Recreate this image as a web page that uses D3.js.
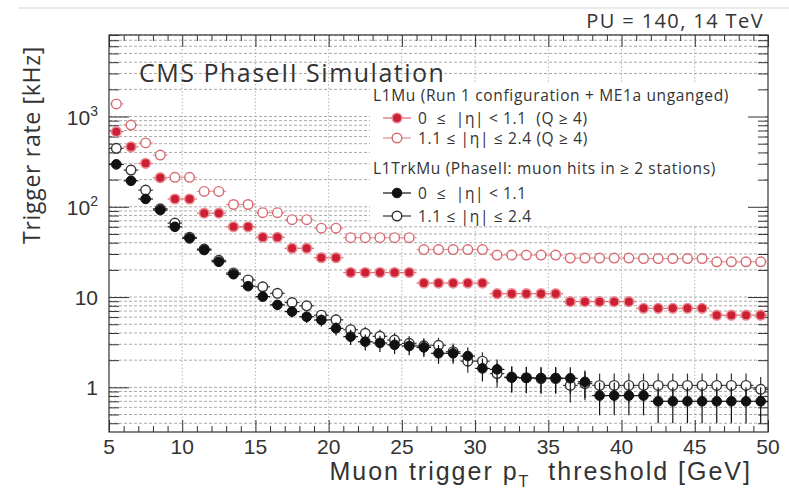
<!DOCTYPE html>
<html>
<head>
<meta charset="utf-8">
<script src="https://cdn.jsdelivr.net/npm/d3@7"></script>
<style>
  body { margin: 0; background: #fff; }
  svg { display: block; font-family: "Open Sans", "Noto Sans", sans-serif; }
  .pre { white-space: pre; }
  .axisfont { font-family: "Liberation Sans", Arial, sans-serif; }
</style>
</head>
<body>
<svg id="chart" width="789" height="497"></svg>
<script>
// Bin centres of the muon pT threshold scan [GeV]
const ptBins = [5.5, 6.5, 7.5, 8.5, 9.5, 10.5, 11.5, 12.5, 13.5, 14.5,
  15.5, 16.5, 17.5, 18.5, 19.5, 20.5, 21.5, 22.5, 23.5, 24.5,
  25.5, 26.5, 27.5, 28.5, 29.5, 30.5, 31.5, 32.5, 33.5, 34.5,
  35.5, 36.5, 37.5, 38.5, 39.5, 40.5, 41.5, 42.5, 43.5, 44.5,
  45.5, 46.5, 47.5, 48.5, 49.5];

// L1Mu, 0 <= |eta| < 1.1 (Q >= 4) rates [kHz]
const l1muBarrel = [680, 462, 303, 210, 122, 122, 85, 85, 60, 60,
  46, 46, 34.7, 34.7, 27.3, 27.3, 18.7, 18.7, 18.7, 18.7,
  18.7, 14.3, 14.3, 14.3, 14.3, 14.3, 10.9, 10.9, 10.9, 10.9,
  10.9, 8.9, 8.9, 8.9, 8.9, 8.9, 7.5, 7.5, 7.5, 7.5,
  7.5, 6.3, 6.3, 6.3, 6.3];

// L1Mu, 1.1 <= |eta| <= 2.4 (Q >= 4) rates [kHz]
const l1muEndcap = [1380, 805, 510, 374, 212, 212, 148, 148, 106, 106,
  86, 86, 72, 72, 58, 58, 45.5, 45.5, 45.5, 45.5,
  45.5, 33.6, 33.6, 33.6, 33.6, 33.6, 29.2, 29.2, 29.2, 29.2,
  29.2, 27, 27, 27, 27, 27, 26.7, 26.7, 26.7, 26.7,
  26.7, 24.6, 24.6, 24.6, 24.6];

// L1TrkMu, 0 <= |eta| < 1.1 rates [kHz] and uncertainties
const trkmuBarrel = [295, 194, 122, 92, 60, 44.7, 33.2, 24.6, 17.9, 13.2,
  10.1, 8.2, 6.9, 6.05, 5.57, 4.5, 3.64, 3.2, 3.1, 2.96,
  2.87, 2.77, 2.38, 2.38, 2.22, 1.62, 1.58, 1.28, 1.27, 1.27,
  1.27, 1.26, 1.15, 0.81, 0.81, 0.81, 0.81, 0.70, 0.70, 0.70,
  0.70, 0.70, 0.70, 0.70, 0.70];
const trkmuBarrelErr = [6.2, 5.0, 4.0, 3.5, 2.8, 2.4, 2.1, 1.8, 1.5, 1.3,
  1.15, 1.03, 0.95, 0.89, 0.85, 0.76, 0.69, 0.64, 0.63, 0.62,
  0.61, 0.6, 0.56, 0.56, 0.54, 0.46, 0.45, 0.41, 0.41, 0.41,
  0.41, 0.41, 0.39, 0.32, 0.32, 0.32, 0.32, 0.3, 0.3, 0.3,
  0.3, 0.3, 0.3, 0.3, 0.3];

// L1TrkMu, 1.1 <= |eta| <= 2.4 rates [kHz] and uncertainties
const trkmuEndcap = [444, 255, 153, 95, 66, 46, 34, 25.5, 18.5, 15.5,
  13, 11, 8.7, 8.0, 6.3, 5.6, 4.35, 3.97, 3.67, 3.34,
  3.07, 2.88, 2.92, 2.48, 1.95, 1.95, 1.42, 1.3, 1.28, 1.25,
  1.25, 1.05, 1.1, 1.05, 1.05, 1.05, 1.05, 1.05, 1.05, 1.05,
  1.05, 1.05, 1.05, 1.05, 0.95];
const trkmuEndcapErr = [7.6, 5.75, 4.46, 3.5, 2.93, 2.44, 2.1, 1.82, 1.55, 1.42,
  1.3, 1.2, 1.06, 1.02, 0.9, 0.85, 0.75, 0.72, 0.69, 0.66,
  0.63, 0.61, 0.62, 0.57, 0.5, 0.5, 0.43, 0.41, 0.41, 0.4,
  0.4, 0.37, 0.38, 0.37, 0.37, 0.37, 0.37, 0.37, 0.37, 0.37,
  0.37, 0.37, 0.37, 0.37, 0.35];

// Axis ticks
const xMajorTicks = [5, 10, 15, 20, 25, 30, 35, 40, 45, 50];
const yLabelTicks = [1, 10, 100, 1000];

const W = 789, H = 497;
const plot = { left: 109, right: 768, top: 35, bottom: 432 };
const binHalfWidth = 0.5;

const x = d3.scaleLinear().domain([5, 50]).range([plot.left, plot.right]);
const y = d3.scaleLog().domain([0.32, 8000]).range([plot.bottom, plot.top]);

const svg = d3.select("#chart");
svg.append("rect").attr("width", W).attr("height", H).attr("fill", "#fff");

// thin rule along the top of the page
svg.append("line").attr("x1", 18).attr("x2", W).attr("y1", 8).attr("y2", 8)
  .attr("stroke", "#d8d8d8").attr("stroke-width", 1.2);

// ---- grid ----
const grid = svg.append("g");
const yGridTicks = y.ticks();
grid.selectAll("line.hg").data(yGridTicks).join("line")
  .attr("x1", plot.left).attr("x2", plot.right)
  .attr("y1", d => y(d)).attr("y2", d => y(d))
  .attr("stroke", "#a0a0a0").attr("stroke-width", 0.9)
  .attr("stroke-dasharray", "3,2");
grid.selectAll("line.vg").data(xMajorTicks.slice(1, -1)).join("line")
  .attr("x1", d => x(d)).attr("x2", d => x(d))
  .attr("y1", plot.top).attr("y2", plot.bottom)
  .attr("stroke", "#b0b0b0").attr("stroke-width", 0.9)
  .attr("stroke-dasharray", "1.5,2");

// legend background
svg.append("rect").attr("x", 370).attr("y", 84).attr("width", 395).attr("height", 142)
  .attr("fill", "#fff");

// ---- axes (ticks pointing inward, mirrored on all sides) ----
const xMinorTicks = d3.range(5, 51).filter(v => v % 5 !== 0);
function tickAxis(axisFn, scale, values, size, tx, ty) {
  const g = svg.append("g").attr("transform", `translate(${tx},${ty})`)
    .call(axisFn(scale).tickValues(values).tickSize(size).tickFormat(""));
  g.select(".domain").remove();
  g.selectAll("line").attr("stroke", "#333").attr("stroke-width", 1);
  return g;
}
tickAxis(d3.axisBottom, x, xMajorTicks, -12, 0, plot.bottom);
tickAxis(d3.axisBottom, x, xMinorTicks, -6, 0, plot.bottom);
tickAxis(d3.axisTop, x, xMajorTicks, -12, 0, plot.top);
tickAxis(d3.axisTop, x, xMinorTicks, -6, 0, plot.top);
const yMajor = yGridTicks.filter(v => Math.abs(Math.log10(v) - Math.round(Math.log10(v))) < 1e-9);
const yMinor = yGridTicks.filter(v => !yMajor.includes(v));
tickAxis(d3.axisLeft, y, yMajor, -20, plot.left, 0);
tickAxis(d3.axisLeft, y, yMinor, -10, plot.left, 0);
tickAxis(d3.axisRight, y, yMajor, -20, plot.right, 0);
tickAxis(d3.axisRight, y, yMinor, -10, plot.right, 0);

svg.append("rect")
  .attr("x", plot.left).attr("y", plot.top)
  .attr("width", plot.right - plot.left).attr("height", plot.bottom - plot.top)
  .attr("fill", "none").attr("stroke", "#333").attr("stroke-width", 1.2);

// tick labels
svg.append("g").attr("class", "axisfont").selectAll("text").data(xMajorTicks).join("text")
  .attr("x", d => x(d)).attr("y", 454)
  .attr("text-anchor", "middle").attr("font-size", 21).attr("fill", "#333")
  .text(d => d);

const yl = svg.append("g").attr("class", "axisfont").selectAll("text").data(yLabelTicks).join("text")
  .attr("x", 98).attr("y", d => y(d) + 8)
  .attr("text-anchor", "end").attr("font-size", 21).attr("fill", "#333");
yl.each(function (d) {
  const t = d3.select(this);
  const e = Math.round(Math.log10(d));
  if (e < 2) { t.text(d); return; }
  t.append("tspan").text("10");
  t.append("tspan").attr("font-size", 14).attr("dy", -9).text(e);
});

// axis titles
svg.append("text")
  .attr("transform", "translate(40,145) rotate(-90)")
  .attr("text-anchor", "middle").attr("font-size", 23).attr("fill", "#333")
  .attr("letter-spacing", 0.7)
  .text("Trigger rate [kHz]");

const xt = svg.append("text").attr("class", "pre axisfont")
  .attr("x", 752).attr("y", 480).attr("text-anchor", "end")
  .attr("font-size", 25).attr("letter-spacing", 2).attr("fill", "#333");
xt.append("tspan").text("Muon trigger p");
xt.append("tspan").attr("font-size", 16).attr("dy", 7).text("T");
xt.append("tspan").attr("dy", -7).text("  threshold [GeV]");

svg.append("text").attr("x", 764).attr("y", 28).attr("text-anchor", "end")
  .attr("font-size", 20).attr("letter-spacing", 1.4).attr("fill", "#333")
  .text("PU = 140, 14 TeV");

svg.append("text").attr("x", 139).attr("y", 82)
  .attr("font-size", 25).attr("letter-spacing", 1.5).attr("fill", "#333")
  .text("CMS PhaseII Simulation");

// ---- data ----
const styles = {
  redFilled:   { fill: "#cc1f33", stroke: "#ea8c94", sw: 1.6, bar: "#e0606e" },
  redOpen:     { fill: "#fff",    stroke: "#d86a72", sw: 1.4, bar: "#e29098" },
  blackFilled: { fill: "#111",    stroke: "#111",    sw: 1.0, bar: "#111" },
  blackOpen:   { fill: "#fff",    stroke: "#333",    sw: 1.4, bar: "#333" }
};

function drawSeries(values, errors, style) {
  const s = styles[style];
  const pts = ptBins.map((b, i) => ({ b, v: values[i], e: errors ? errors[i] : 0 }));
  const g = svg.append("g");
  g.selectAll("line.h").data(pts).join("line")
    .attr("x1", d => x(d.b - binHalfWidth)).attr("x2", d => x(d.b + binHalfWidth))
    .attr("y1", d => y(d.v)).attr("y2", d => y(d.v))
    .attr("stroke", s.bar).attr("stroke-width", 1.2);
  if (errors) {
    g.selectAll("line.v").data(pts).join("line")
      .attr("x1", d => x(d.b)).attr("x2", d => x(d.b))
      .attr("y1", d => y(d.v + d.e)).attr("y2", d => y(Math.max(d.v - d.e, 0.05)))
      .attr("stroke", s.bar).attr("stroke-width", 1.2);
  }
  g.selectAll("circle").data(pts).join("circle")
    .attr("cx", d => x(d.b)).attr("cy", d => y(d.v)).attr("r", 4.8)
    .attr("fill", s.fill).attr("stroke", s.stroke).attr("stroke-width", s.sw);
}

drawSeries(l1muEndcap, null, "redOpen");
drawSeries(l1muBarrel, null, "redFilled");
drawSeries(trkmuEndcap, trkmuEndcapErr, "blackOpen");
drawSeries(trkmuBarrel, trkmuBarrelErr, "blackFilled");

// ---- legend ----
const legendRows = [
  { cy: 95,  text: "L1Mu (Run 1 configuration + ME1a unganged)", tx: 373 },
  { cy: 118, style: "redFilled",   text: "0  ≤  |η| < 1.1  (Q ≥ 4)", tx: 418 },
  { cy: 138, style: "redOpen",     text: "1.1 ≤ |η| ≤ 2.4 (Q ≥ 4)", tx: 418 },
  { cy: 168, text: "L1TrkMu (PhaseII: muon hits in ≥ 2 stations)", tx: 373 },
  { cy: 193, style: "blackFilled", text: "0  ≤  |η| < 1.1", tx: 418 },
  { cy: 216, style: "blackOpen",   text: "1.1 ≤ |η| ≤ 2.4", tx: 418 }
];
const lg = svg.append("g");
legendRows.forEach(r => {
  if (r.style) {
    const s = styles[r.style];
    lg.append("line").attr("x1", 383).attr("x2", 411).attr("y1", r.cy).attr("y2", r.cy)
      .attr("stroke", s.bar).attr("stroke-width", 1.2);
    lg.append("circle").attr("cx", 397).attr("cy", r.cy).attr("r", 4.8)
      .attr("fill", s.fill).attr("stroke", s.stroke).attr("stroke-width", s.sw);
  }
  lg.append("text").attr("class", "pre").attr("x", r.tx).attr("y", r.cy + 5.5)
    .attr("font-size", 15.5).attr("letter-spacing", 0.65).attr("fill", "#333")
    .text(r.text);
});
</script>
</body>
</html>
